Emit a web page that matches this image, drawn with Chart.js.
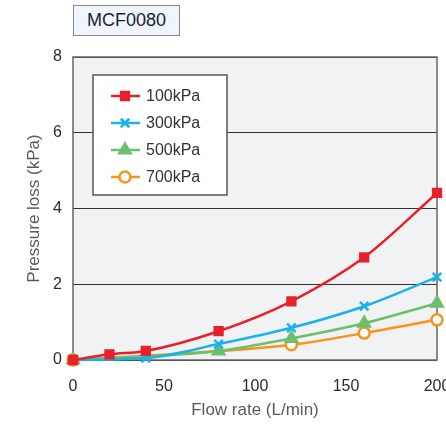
<!DOCTYPE html>
<html>
<head>
<meta charset="utf-8">
<script src="https://cdn.jsdelivr.net/npm/chart.js@4.4.1/dist/chart.umd.min.js"></script>
<style>
  html, body { margin: 0; padding: 0; background: #fff; }
  #wrap { position: relative; width: 446px; height: 433px; }
  #title {
    position: absolute; left: 73px; top: 5px; width: 105px; height: 29px;
    background: #eef5fc; border: 1px solid #888;
    font: 18px "Liberation Sans", Arial, sans-serif; color: #1d2233;
    display: flex; align-items: center; justify-content: center;
  }
</style>
</head>
<body>
<div id="wrap">
  <canvas id="chart" width="446" height="433"></canvas>
  <div id="title">MCF0080</div>
</div>
<script>
// values
const seriesNames = ['100kPa', '300kPa', '500kPa', '700kPa'];
const flow100 = [0, 20, 40, 80, 120, 160, 200];
const loss100 = [0, 0.15, 0.24, 0.76, 1.55, 2.71, 4.41];
const flow300 = [0, 40, 80, 120, 160, 200];
const loss300 = [0, 0.05, 0.42, 0.85, 1.42, 2.19];
const flow500 = [0, 80, 120, 160, 200];
const loss500 = [0, 0.24, 0.57, 0.97, 1.5];
const flow700 = [0, 120, 160, 200];
const loss700 = [0, 0.4, 0.71, 1.06];
const xTicks = [0, 50, 100, 150, 200];
const yTicks = [0, 2, 4, 6, 8];

const FONT = '"Liberation Sans", Arial, sans-serif';

function pts(xs, ys) {
    return xs.map((x, i) => ({ x: x, y: ys[i] }));
}

// plot background + frame (under the lines)
const frame = {
    id: 'frame',
    beforeDraw(chart) {
        const { ctx, chartArea: a } = chart;
        ctx.save();
        ctx.fillStyle = '#f1f2f4';
        ctx.fillRect(a.left, a.top, a.right - a.left, a.bottom - a.top);
        ctx.restore();
    },
    beforeDatasetsDraw(chart) {
        const { ctx, chartArea: a } = chart;
        ctx.save();
        ctx.strokeStyle = '#666';
        ctx.lineWidth = 1.5;
        ctx.strokeRect(a.left, a.top, a.right - a.left, a.bottom - a.top);
        ctx.restore();
    }
};

// legend box with line + marker samples
const boxLegend = {
    id: 'boxLegend',
    beforeDatasetsDraw(chart) {
        const { ctx, chartArea: a } = chart;
        const x0 = a.left + 20, y0 = a.top + 18, w = 134, h = 120;
        ctx.save();
        ctx.fillStyle = '#fff';
        ctx.fillRect(x0, y0, w, h);
        ctx.strokeStyle = '#555';
        ctx.lineWidth = 1.5;
        ctx.strokeRect(x0, y0, w, h);
        chart.data.datasets.forEach((ds, i) => {
            const cy = y0 + 21 + i * 27;
            ctx.strokeStyle = ds.borderColor;
            ctx.lineWidth = 2.5;
            ctx.beginPath();
            ctx.moveTo(x0 + 18, cy);
            ctx.lineTo(x0 + 47, cy);
            ctx.stroke();
            ctx.fillStyle = ds.pointBackgroundColor;
            ctx.strokeStyle = ds.pointBorderColor;
            ctx.lineWidth = ds.pointBorderWidth;
            Chart.helpers.drawPoint(ctx, {
                pointStyle: ds.pointStyle,
                radius: ds.pointRadius,
                borderWidth: ds.pointBorderWidth
            }, x0 + 32, cy);
            ctx.fillStyle = '#333';
            ctx.font = '16px ' + FONT;
            ctx.textBaseline = 'middle';
            ctx.fillText(ds.label, x0 + 53, cy + 1);
        });
        ctx.restore();
    }
};

function series(label, xs, ys, color, style, radius, fill) {
    return {
        label: label,
        data: pts(xs, ys),
        borderColor: color,
        backgroundColor: fill,
        pointBackgroundColor: fill,
        pointBorderColor: color,
        pointStyle: style,
        pointRadius: radius,
        pointBorderWidth: 2.5,
        borderWidth: 2.5,
        cubicInterpolationMode: 'monotone',
        clip: false,
        fill: false
    };
}

const ctx = document.getElementById('chart').getContext('2d');
const chart = new Chart(ctx, {
    type: 'line',
    data: {
        datasets: [
            series(seriesNames[0], flow100, loss100, '#e8202a', 'rect', 5.5, '#e8202a'),
            series(seriesNames[1], flow300, loss300, '#19b3ea', 'crossRot', 6, '#19b3ea'),
            series(seriesNames[2], flow500, loss500, '#6cbf6c', 'triangle', 6.5, '#6cbf6c'),
            series(seriesNames[3], flow700, loss700, '#f7931e', 'circle', 5.5, '#ffffff')
        ]
    },
    options: {
        responsive: false,
        animation: false,
        layout: { padding: { top: 57, right: 9, bottom: 0, left: 0 } },
        plugins: {
            legend: { display: false },
            tooltip: { enabled: false }
        },
        scales: {
            x: {
                type: 'linear',
                min: 0,
                max: 200,
                afterBuildTicks: s => { s.ticks = xTicks.map(v => ({ value: v })); },
                afterFit: s => { s.height = 73; s.paddingRight = 0; s.paddingLeft = 0; },
                grid: { display: false, drawTicks: false },
                border: { display: false },
                ticks: { color: '#2a2a2a', padding: 17, maxRotation: 0, font: { size: 16, family: FONT } },
                title: {
                    display: true,
                    text: 'Flow rate (L/min)',
                    color: '#5a5a5a',
                    padding: { top: 0, bottom: 12 },
                    font: { size: 17, family: FONT }
                }
            },
            y: {
                min: 0,
                max: 8,
                afterBuildTicks: s => { s.ticks = yTicks.map(v => ({ value: v })); },
                afterFit: s => { s.width = 73; },
                grid: { color: '#333', lineWidth: 1, drawTicks: false },
                border: { display: false },
                ticks: { color: '#2a2a2a', padding: 11, font: { size: 16, family: FONT } },
                title: {
                    display: true,
                    text: 'Pressure loss (kPa)',
                    color: '#5a5a5a',
                    padding: { top: 24, bottom: 0 },
                    font: { size: 17, family: FONT }
                }
            }
        }
    },
    plugins: [frame, boxLegend]
});
</script>
</body>
</html>
